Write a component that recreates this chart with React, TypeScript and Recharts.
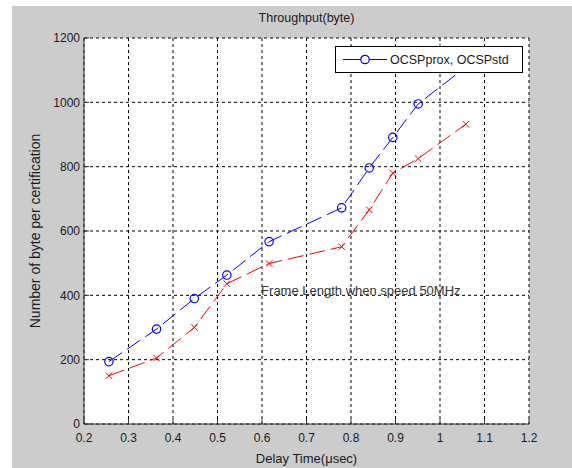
import React from "react";
import {
  LineChart,
  Line,
  XAxis,
  YAxis,
  CartesianGrid,
  ReferenceDot,
} from "recharts";

const delayTimes = [0.256, 0.363, 0.448, 0.521, 0.616, 0.779, 0.841, 0.894, 0.951, 1.058];
const ocspProx = [194, 295, 390, 463, 567, 672, 796, 891, 995, 1110];
const ocspStd = [150, 205, 300, 436, 499, 551, 666, 780, 825, 932];
const xTicks = [0.2, 0.3, 0.4, 0.5, 0.6, 0.7, 0.8, 0.9, 1, 1.1, 1.2];
const yTicks = [0, 200, 400, 600, 800, 1000, 1200];
const titleText = "Throughput(byte)";
const xLabelText = "Delay Time(\u03bcsec)";
const yLabelText = "Number of byte per certification";
const legendText = "OCSPprox, OCSPstd";
const noteText = "Frame Length when speed 50MHz";
const notePos = { x: 0.598, y: 415 };

const data = delayTimes.map((t, i) => ({ t, prox: ocspProx[i], std: ocspStd[i] }));

const FONT = "'Liberation Sans', Arial, sans-serif";
const TEXT = "#1a1a22";

const CircleDot = (props: any) => {
  const { cx, cy } = props;
  if (cx == null || cy == null) return null;
  return <circle cx={cx} cy={cy} r={4.2} fill="none" stroke="#0000ff" strokeWidth={1.2} />;
};

const CrossDot = (props: any) => {
  const { cx, cy } = props;
  if (cx == null || cy == null) return null;
  const s = 3.2;
  return (
    <g stroke="#ff0000" strokeWidth={1}>
      <line x1={cx - s} y1={cy - s} x2={cx + s} y2={cy + s} />
      <line x1={cx - s} y1={cy + s} x2={cx + s} y2={cy - s} />
    </g>
  );
};

const LegendBox = () => (
  <div
    style={{
      position: "absolute",
      left: 335,
      top: 46,
      width: 188,
      height: 27,
      boxSizing: "border-box",
      border: "1px solid #000",
      background: "#fff",
      display: "flex",
      alignItems: "center",
      fontFamily: FONT,
      fontSize: 12.5,
      color: TEXT,
    }}
  >
    <svg width={52} height={25} style={{ display: "block" }}>
      <line x1={7} y1={12.5} x2={51} y2={12.5} stroke="#0000ff" strokeWidth={1} />
      <circle cx={29} cy={12.5} r={4.2} fill="#fff" stroke="#0000ff" strokeWidth={1.2} />
    </svg>
    <span style={{ marginLeft: 2 }}>{legendText}</span>
  </div>
);

const NoteLabel = (props: any) => {
  const vb = props.viewBox || {};
  return (
    <text
      x={vb.x}
      y={vb.y}
      textAnchor="start"
      dominantBaseline="central"
      fontFamily={FONT}
      fontSize={13}
      fill="#333"
    >
      {noteText}
    </text>
  );
};

export default function App() {
  return (
    <div style={{ position: "absolute", left: 0, top: 0, width: 572, height: 468, background: "#fff" }}>
      <div style={{ position: "absolute", left: 12, top: 6, width: 560, height: 462, background: "#cccccc" }} />
      <div
        style={{
          position: "absolute",
          left: 84,
          width: 445,
          top: 11,
          textAlign: "center",
          fontFamily: FONT,
          fontSize: 12.5,
          color: TEXT,
        }}
      >
        {titleText}
      </div>
      <div style={{ position: "absolute", left: 0, top: 0 }}>
        <LineChart width={572} height={468} data={data} margin={{ top: 38, right: 43, bottom: 4, left: 24 }}>
          <CartesianGrid
            stroke="#000"
            strokeDasharray="3 3"
            fill="#fff"
            fillOpacity={1}
            horizontalValues={yTicks}
            verticalValues={xTicks}
          />
          <XAxis
            dataKey="t"
            type="number"
            domain={[0.2, 1.2]}
            ticks={xTicks}
            allowDataOverflow
            height={40}
            stroke="#333"
            tickSize={-5}
            tickMargin={14}
            tick={{ fill: TEXT, fontSize: 12, fontFamily: FONT }}
            label={{ value: xLabelText, position: "insideBottom", offset: 1, fill: TEXT, fontSize: 13, fontFamily: FONT }}
          />
          <XAxis
            xAxisId="top"
            dataKey="t"
            type="number"
            orientation="top"
            domain={[0.2, 1.2]}
            ticks={xTicks}
            height={0}
            stroke="#333"
            tickSize={-5}
            tickFormatter={() => ""}
          />
          <YAxis
            type="number"
            domain={[0, 1200]}
            ticks={yTicks}
            width={60}
            stroke="#333"
            tickSize={-5}
            tickMargin={9}
            tick={{ fill: TEXT, fontSize: 12, fontFamily: FONT }}
            label={{
              value: yLabelText,
              angle: -90,
              position: "insideLeft",
              offset: 11,
              style: { textAnchor: "middle" },
              fill: TEXT,
              fontSize: 14,
              fontFamily: FONT,
            }}
          />
          <YAxis
            yAxisId="right"
            orientation="right"
            type="number"
            domain={[0, 1200]}
            ticks={yTicks}
            width={0}
            stroke="#333"
            tickSize={-5}
            tickFormatter={() => ""}
          />
          <Line
            dataKey="prox"
            stroke="#0000ff"
            strokeWidth={1}
            strokeDasharray="16 6"
            dot={<CircleDot />}
            activeDot={false}
            isAnimationActive={false}
          />
          <Line
            dataKey="std"
            stroke="#ff0000"
            strokeWidth={1}
            strokeDasharray="16 6"
            dot={<CrossDot />}
            activeDot={false}
            isAnimationActive={false}
          />
          <ReferenceDot
            x={notePos.x}
            y={notePos.y}
            r={0}
            fill="none"
            stroke="none"
            ifOverflow="visible"
            label={<NoteLabel />}
          />
        </LineChart>
      </div>
      <LegendBox />
    </div>
  );
}
